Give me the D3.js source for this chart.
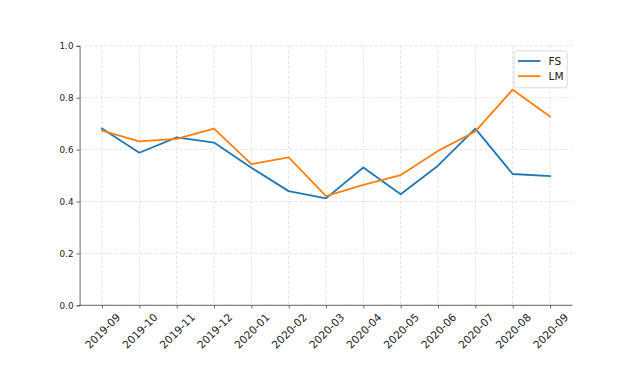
<!DOCTYPE html>
<html>
<head>
<meta charset="utf-8">
<script src="https://cdn.jsdelivr.net/npm/d3@7"></script>
<style>
  html, body { margin: 0; padding: 0; background: #fff; }
  svg { display: block; font-family: "DejaVu Sans", sans-serif; }
</style>
</head>
<body>
<svg id="chart" width="636" height="381"></svg>
<script>
const months = ["2019-09","2019-10","2019-11","2019-12","2020-01","2020-02","2020-03","2020-04","2020-05","2020-06","2020-07","2020-08","2020-09"];
const fsValues = [0.681, 0.588, 0.647, 0.627, 0.530, 0.440, 0.412, 0.531, 0.428, 0.538, 0.681, 0.506, 0.498];
const lmValues = [0.673, 0.632, 0.641, 0.681, 0.544, 0.570, 0.421, 0.464, 0.502, 0.595, 0.670, 0.831, 0.728];
const yTicks = [0.0, 0.2, 0.4, 0.6, 0.8, 1.0];
const seriesNames = ["FS", "LM"];
const seriesColors = ["#1f77b4", "#ff7f0e"];

(function () {
const svg = d3.select("#chart");
const pLeft = 79.6, pRight = 572.4, pTop = 45.8, pBottom = 305.3;

const x = d3.scaleLinear().domain([-0.6, months.length - 1 + 0.6]).range([pLeft, pRight]);
const y = d3.scaleLinear().domain([0, 1]).range([pBottom, pTop]);

// grid
const grid = svg.append("g");
grid.selectAll("line.v").data(months).enter().append("line")
  .attr("x1", (d, i) => x(i)).attr("x2", (d, i) => x(i))
  .attr("y1", pTop).attr("y2", pBottom)
  .attr("stroke", "#dcdcdc").attr("stroke-width", 0.8).attr("stroke-dasharray", "3,2");
grid.selectAll("line.h").data(yTicks).enter().append("line")
  .attr("x1", pLeft).attr("x2", pRight)
  .attr("y1", d => y(d)).attr("y2", d => y(d))
  .attr("stroke", "#dcdcdc").attr("stroke-width", 0.8).attr("stroke-dasharray", "3,2");

// lines
const series = [fsValues, lmValues];
const line = d3.line().x((d, i) => x(i)).y(d => y(d));
series.forEach((vals, k) => {
  svg.append("path").datum(vals)
    .attr("d", line)
    .attr("fill", "none")
    .attr("stroke", seriesColors[k])
    .attr("stroke-width", 1.8)
    .attr("stroke-linejoin", "round")
    .attr("stroke-linecap", "square");
});

// y axis
const yAxis = d3.axisLeft(y).tickValues(yTicks).tickFormat(d3.format(".1f")).tickSize(3.1).tickPadding(3);
const gy = svg.append("g").attr("transform", `translate(${pLeft},0)`).call(yAxis);
gy.select(".domain").attr("stroke", "#444").attr("stroke-width", 0.8);
gy.selectAll(".tick line").attr("stroke", "#444").attr("stroke-width", 0.8);
gy.selectAll(".tick text").attr("fill", "#222").style("font-size", "8.8px").style("font-family", "DejaVu Sans");

// x axis
const xAxis = d3.axisBottom(x).tickValues(d3.range(months.length)).tickFormat(i => months[i]).tickSize(3.1).tickSizeOuter(0);
const gx = svg.append("g").attr("transform", `translate(0,${pBottom})`).call(xAxis);
gx.select(".domain").attr("stroke", "#444").attr("stroke-width", 0.8).attr("d", `M${pLeft},0H${pRight}`);
gx.selectAll(".tick line").attr("stroke", "#444").attr("stroke-width", 0.8);
gx.selectAll(".tick text")
  .attr("fill", "#222")
  .style("font-size", "10.6px").style("font-family", "DejaVu Sans")
  .attr("text-anchor", "middle")
  .attr("dy", null)
  .attr("dominant-baseline", "central")
  .attr("y", 25.5)
  .attr("transform", "rotate(-45, 0, 25.5)");

// legend
const lg = svg.append("g");
lg.append("rect").attr("x", 514).attr("y", 50.8).attr("width", 53.2).attr("height", 37)
  .attr("rx", 2.5).attr("fill", "#fff").attr("fill-opacity", 0.8)
  .attr("stroke", "#d0d0d0").attr("stroke-width", 0.8);
seriesNames.forEach((name, k) => {
  const cy = 61 + k * 15.2;
  lg.append("line").attr("x1", 518).attr("x2", 540.5).attr("y1", cy).attr("y2", cy)
    .attr("stroke", seriesColors[k]).attr("stroke-width", 1.8);
  lg.append("text").attr("x", 548.5).attr("y", cy).attr("dominant-baseline", "central")
    .attr("fill", "#222").style("font-size", "10.6px").text(name);
});
})();
</script>
</body>
</html>
